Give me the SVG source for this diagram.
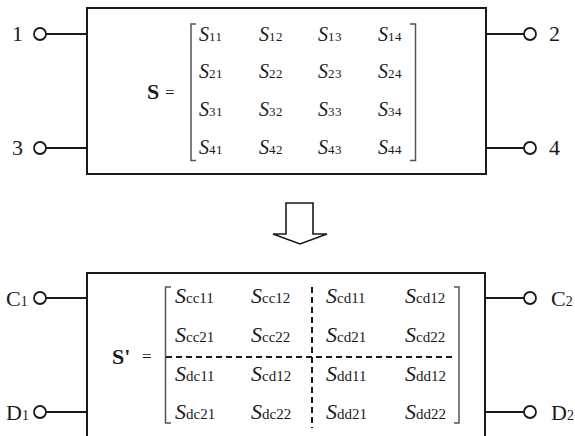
<svg xmlns="http://www.w3.org/2000/svg" width="575" height="436" viewBox="0 0 575 436">
<style>
.box{fill:none;stroke:#1a1a1a;stroke-width:2}
.wire{stroke:#1a1a1a;stroke-width:2;fill:none}
.term{fill:#fff;stroke:#1a1a1a;stroke-width:1.8}
.brk{fill:none;stroke:#555;stroke-width:1.5}
.dash{stroke:#1a1a1a;stroke-width:2;stroke-dasharray:6 4;fill:none}
text{font-family:"Liberation Serif","Times New Roman",serif;fill:#1a1a1a}
.lbl{font-size:22px}
.lsub{font-size:14px}
.e1{font-size:20px;font-style:italic}
.s1{font-size:13px;font-style:normal;letter-spacing:0.5px}
.e2{font-size:22px;font-style:italic}
.s2{font-size:15px;font-style:normal}
.bold{font-size:22px;font-weight:bold}
.eq{font-size:17px}
</style>

<g id="top-block">
  <rect class="box" x="87" y="8" width="399" height="166"/>
  <path class="brk" d="M196,24 H191 V160.5 H196"/>
  <path class="brk" d="M410,24 H415.5 V160.5 H410"/>
  <text class="bold" x="147" y="99">S</text>
  <text class="eq" x="165" y="98">=</text>
  <g>
    <text class="e1" x="199" y="41">S<tspan class="s1">11</tspan></text>
    <text class="e1" x="259" y="41">S<tspan class="s1">12</tspan></text>
    <text class="e1" x="318" y="41">S<tspan class="s1">13</tspan></text>
    <text class="e1" x="378" y="41">S<tspan class="s1">14</tspan></text>
    <text class="e1" x="199" y="78">S<tspan class="s1">21</tspan></text>
    <text class="e1" x="259" y="78">S<tspan class="s1">22</tspan></text>
    <text class="e1" x="318" y="78">S<tspan class="s1">23</tspan></text>
    <text class="e1" x="378" y="78">S<tspan class="s1">24</tspan></text>
    <text class="e1" x="199" y="116">S<tspan class="s1">31</tspan></text>
    <text class="e1" x="259" y="116">S<tspan class="s1">32</tspan></text>
    <text class="e1" x="318" y="116">S<tspan class="s1">33</tspan></text>
    <text class="e1" x="378" y="116">S<tspan class="s1">34</tspan></text>
    <text class="e1" x="199" y="154">S<tspan class="s1">41</tspan></text>
    <text class="e1" x="259" y="154">S<tspan class="s1">42</tspan></text>
    <text class="e1" x="318" y="154">S<tspan class="s1">43</tspan></text>
    <text class="e1" x="378" y="154">S<tspan class="s1">44</tspan></text>
  </g>
</g>

<g id="port-1"><circle class="term" cx="40" cy="34" r="6"/><text class="lbl" x="12" y="41">1</text></g>
<g id="port-3"><circle class="term" cx="40" cy="148" r="6"/><text class="lbl" x="12" y="155">3</text></g>
<g id="port-2"><circle class="term" cx="530" cy="34" r="6"/><text class="lbl" x="549" y="41">2</text></g>
<g id="port-4"><circle class="term" cx="530" cy="148" r="6"/><text class="lbl" x="549" y="155">4</text></g>

<g id="arrow">
  <polygon points="286,203 313,203 313,234 327,234 300,244 273,234 286,234" fill="#fff" stroke="#1a1a1a" stroke-width="1.6" stroke-linejoin="miter"/>
</g>

<g id="bottom-block">
  <path class="box" d="M87,440 V273 H485 V440"/>
  <path class="brk" d="M171,287 H165.5 V423 H171"/>
  <path class="brk" d="M454,287 H459 V423 H454"/>
  <line class="dash" x1="166" y1="357" x2="454" y2="357"/>
  <line class="dash" x1="312" y1="287" x2="312" y2="428"/>
  <text class="bold" x="112" y="364">S'</text>
  <text class="eq" x="142" y="362">=</text>
  <g>
    <text class="e2" x="175" y="303">S<tspan class="s2">cc11</tspan></text>
    <text class="e2" x="251" y="303">S<tspan class="s2">cc12</tspan></text>
    <text class="e2" x="326" y="303">S<tspan class="s2">cd11</tspan></text>
    <text class="e2" x="405" y="303">S<tspan class="s2">cd12</tspan></text>
    <text class="e2" x="175" y="342">S<tspan class="s2">cc21</tspan></text>
    <text class="e2" x="251" y="342">S<tspan class="s2">cc22</tspan></text>
    <text class="e2" x="326" y="342">S<tspan class="s2">cd21</tspan></text>
    <text class="e2" x="405" y="342">S<tspan class="s2">cd22</tspan></text>
    <text class="e2" x="175" y="381">S<tspan class="s2">dc11</tspan></text>
    <text class="e2" x="251" y="381">S<tspan class="s2">cd12</tspan></text>
    <text class="e2" x="326" y="381">S<tspan class="s2">dd11</tspan></text>
    <text class="e2" x="405" y="381">S<tspan class="s2">dd12</tspan></text>
    <text class="e2" x="175" y="419">S<tspan class="s2">dc21</tspan></text>
    <text class="e2" x="251" y="419">S<tspan class="s2">dc22</tspan></text>
    <text class="e2" x="326" y="419">S<tspan class="s2">dd21</tspan></text>
    <text class="e2" x="405" y="419">S<tspan class="s2">dd22</tspan></text>
  </g>
</g>

<g id="port-C1"><circle class="term" cx="40" cy="298" r="6"/><text class="lbl" x="6" y="306">C<tspan class="lsub">1</tspan></text></g>
<g id="port-D1"><circle class="term" cx="40" cy="412" r="6"/><text class="lbl" x="6" y="420">D<tspan class="lsub">1</tspan></text></g>
<g id="port-C2"><circle class="term" cx="530" cy="298" r="6"/><text class="lbl" x="551" y="306">C<tspan class="lsub">2</tspan></text></g>
<g id="port-D2"><circle class="term" cx="530" cy="412" r="6"/><text class="lbl" x="551" y="420">D<tspan class="lsub">2</tspan></text></g>

<g id="connectors">
  <line class="wire" x1="46" y1="34" x2="87" y2="34"/>
  <line class="wire" x1="46" y1="148" x2="87" y2="148"/>
  <line class="wire" x1="486" y1="34" x2="524" y2="34"/>
  <line class="wire" x1="486" y1="148" x2="524" y2="148"/>
  <line class="wire" x1="46" y1="298" x2="87" y2="298"/>
  <line class="wire" x1="46" y1="412" x2="87" y2="412"/>
  <line class="wire" x1="485" y1="298" x2="524" y2="298"/>
  <line class="wire" x1="485" y1="412" x2="524" y2="412"/>
</g>
</svg>
